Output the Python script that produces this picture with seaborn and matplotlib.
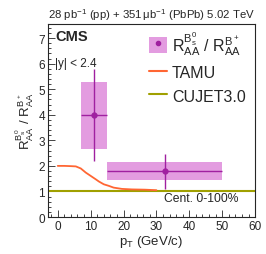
import matplotlib
matplotlib.use('Agg')
import matplotlib.pyplot as plt
import matplotlib.patches as mpatches
from matplotlib.lines import Line2D
from matplotlib.ticker import MultipleLocator
import pandas as pd
import seaborn as sns

# Data points (Bs/B+ ratio)
pt_centers = [11.0, 32.5]
pt_low = [7.0, 15.0]
pt_high = [15.0, 50.0]
ratio = [4.0, 1.8]
stat_up = [1.78, 0.65]
stat_down = [1.8, 0.7]
syst_up = [1.3, 0.35]
syst_down = [1.32, 0.35]

# TAMU model curve
tamu_pt = [0.0, 2.0, 4.0, 5.5, 7.0, 8.5, 10.0, 11.5, 12.5, 14.0, 15.5, 17.0, 19.5, 22.5, 26.5, 30.0]
tamu_ratio = [2.0, 2.0, 1.99, 1.98, 1.9, 1.74, 1.61, 1.48, 1.39, 1.28, 1.22, 1.15, 1.10, 1.08, 1.07, 1.05]

# CUJET3.0 model
cujet_value = 1.0

box_color = '#e39ce0'
point_color = '#a020a0'
tamu_color = '#ff6633'
cujet_color = '#a0a000'

sns.set_style('ticks')
plt.rcParams['font.family'] = ['Liberation Sans', 'DejaVu Sans']
plt.rcParams['mathtext.fontset'] = 'custom'
plt.rcParams['mathtext.rm'] = 'Liberation Sans'
plt.rcParams['mathtext.it'] = 'Liberation Sans'
plt.rcParams['mathtext.bf'] = 'Liberation Sans:bold'

fig = plt.figure(figsize=(2.66, 2.55), dpi=100)
ax = fig.add_axes([0.180, 0.145, 0.779, 0.757])

# syst boxes
for x0, x1, y, up, dn in zip(pt_low, pt_high, ratio, syst_up, syst_down):
    ax.add_patch(mpatches.Rectangle((x0, y - dn), x1 - x0, up + dn,
                                    facecolor=box_color, edgecolor='none', zorder=1))

# CUJET line
ax.axhline(cujet_value, color=cujet_color, linewidth=1.5, zorder=2)

# TAMU curve
tamu_df = pd.DataFrame({'pt': tamu_pt, 'ratio': tamu_ratio})
sns.lineplot(data=tamu_df, x='pt', y='ratio', ax=ax, color=tamu_color, linewidth=1.3, zorder=3)

# data points
xerr = [[c - lo for c, lo in zip(pt_centers, pt_low)], [hi - c for c, hi in zip(pt_centers, pt_high)]]
ax.errorbar(pt_centers, ratio, xerr=xerr, yerr=[stat_down, stat_up], fmt='o', color=point_color,
            markersize=3.5, elinewidth=1.0, capsize=0, zorder=4)

ax.set_xlim(-3, 60)
ax.set_ylim(0, 7.55)
ax.xaxis.set_major_locator(MultipleLocator(10))
ax.xaxis.set_minor_locator(MultipleLocator(2))
ax.yaxis.set_major_locator(MultipleLocator(1))
ax.yaxis.set_minor_locator(MultipleLocator(0.2))
ax.tick_params(which='both', direction='in', labelsize=8.5, pad=2)
ax.tick_params(which='major', length=5, width=0.6)
ax.tick_params(which='minor', length=2.5, width=0.6)
for sp in ax.spines.values():
    sp.set_linewidth(0.8)

ax.set_xlabel('p$_{T}$ (GeV/c)', fontsize=9.5, labelpad=1)
ax.set_ylabel('R$_{AA}^{B_s^0}$ / R$_{AA}^{B^+}$', fontsize=9.5, labelpad=2)

ax.text(0.035, 0.975, 'CMS', transform=ax.transAxes, fontsize=10.5, fontweight='bold', va='top', ha='left')
ax.text(0.035, 0.80, '|y| < 2.4', transform=ax.transAxes, fontsize=8.5, va='center', ha='left')
ax.text(0.92, 0.07, 'Cent. 0-100%', transform=ax.transAxes, fontsize=8.7, va='bottom', ha='right')
ax.set_title('28 pb$^{-1}$ (pp) + 351$\\,\\mu$b$^{-1}$ (PbPb) 5.02 TeV', fontsize=8.2, loc='right', pad=4)

handles = [
    (mpatches.Patch(facecolor=box_color, edgecolor='none'),
     Line2D([], [], marker='o', color=point_color, markersize=3, linestyle='none')),
    Line2D([], [], color=tamu_color, linewidth=1.5),
    Line2D([], [], color=cujet_color, linewidth=1.5),
]
labels = ['R$_{AA}^{B_s^0}$ / R$_{AA}^{B^+}$', 'TAMU', 'CUJET3.0']
ax.legend(handles, labels, loc='upper left', bbox_to_anchor=(0.49, 0.975), frameon=False,
          fontsize=11.5, handlelength=1.1, handleheight=1.15, handletextpad=0.3, labelspacing=0.45,
          borderpad=0.0, borderaxespad=0.0)

fig.savefig('out.png', dpi=100)
